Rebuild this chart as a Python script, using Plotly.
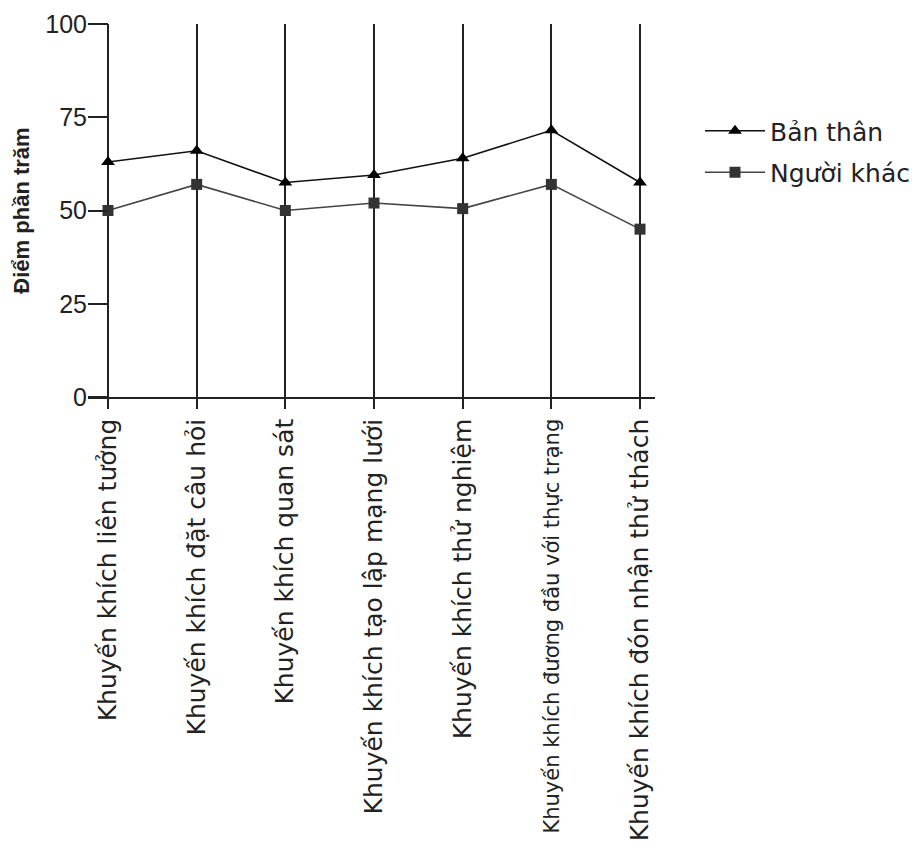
import plotly.graph_objects as go

categories = [
    "Khuyến khích liên tưởng",
    "Khuyến khích đặt câu hỏi",
    "Khuyến khích quan sát",
    "Khuyến khích tạo lập mạng lưới",
    "Khuyến khích thử nghiệm",
    "Khuyến khích đương đầu với thực trạng",
    "Khuyến khích đón nhận thử thách",
]
ban_than = [63, 66, 57.5, 59.5, 64, 71.5, 57.5]
nguoi_khac = [50, 57, 50, 52, 50.5, 57, 45]
y_ticks = [0, 25, 50, 75, 100]

W, H = 919, 852
L, R, T, B = 80, 272, 16, 463
plot_w = W - L - R
plot_h = H - T - B

# the longest label is set slightly smaller so it fits like in the original
tick_text = [
    c if len(c) < 34 else '<span style="font-size:21px">' + c + "</span>"
    for c in categories
]

fig = go.Figure()
fig.add_trace(go.Scatter(
    x=categories, y=ban_than, name="Bản thân", mode="lines+markers",
    line=dict(color="#111111", width=1.6),
    marker=dict(symbol="triangle-up", size=12, color="#000000"),
    legendgroup="a",
))
fig.add_trace(go.Scatter(
    x=categories, y=nguoi_khac, name="Người khác", mode="lines+markers",
    line=dict(color="#444444", width=1.6),
    marker=dict(symbol="square", size=11, color="#333333"),
    legendgroup="b",
))

fig.update_layout(
    width=W, height=H,
    margin=dict(l=L, r=R, t=T, b=B, autoexpand=False),
    paper_bgcolor="white", plot_bgcolor="white",
    font=dict(family="Liberation Sans, Arial, sans-serif", color="#222222"),
    showlegend=True,
    legend=dict(
        x=612 / plot_w, y=1 - 84 / plot_h,
        xanchor="left", yanchor="top",
        font=dict(family="DejaVu Sans, sans-serif", size=25, color="#222222"),
        bgcolor="rgba(0,0,0,0)",
        tracegroupgap=6,
        itemwidth=60,
    ),
    xaxis=dict(
        type="category",
        range=[-0.2256, 6.169],
        tickvals=categories, ticktext=tick_text,
        showline=True, linecolor="#222222", linewidth=1.5,
        showgrid=True, gridcolor="#222222", gridwidth=1.5,
        ticks="outside", ticklen=10, tickwidth=1.5, tickcolor="#222222",
        tickangle=-90,
        tickfont=dict(family="DejaVu Sans, sans-serif", size=25, color="#222222"),
        zeroline=False,
    ),
    yaxis=dict(
        range=[0, 100],
        tickvals=y_ticks,
        anchor="free", position=20 / plot_w,
        showline=False,
        showgrid=False, zeroline=False,
        ticks="outside", ticklen=20, tickwidth=1.5, tickcolor="#222222",
        ticklabelstandoff=-4,
        tickfont=dict(size=25, color="#222222"),
        title=dict(text="<b>Điểm phần trăm</b>", font=dict(size=22, color="#222222"), standoff=8),
    ),
)

fig.write_html("out.html")
